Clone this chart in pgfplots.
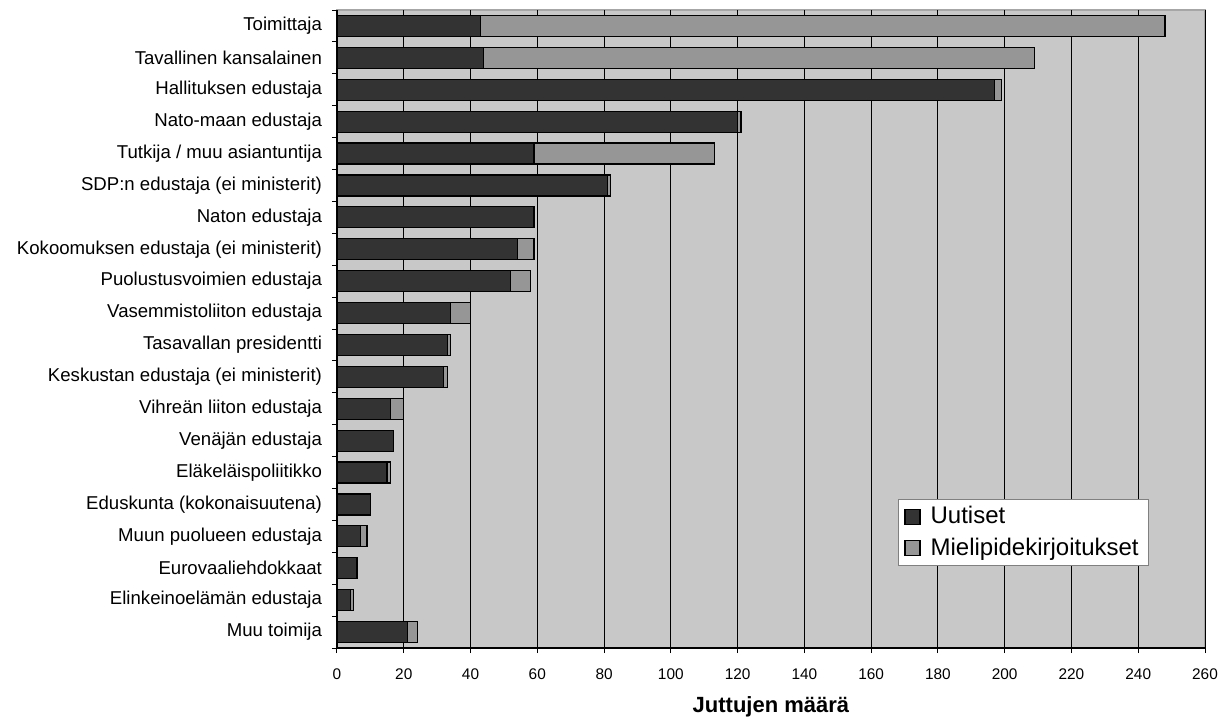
\documentclass[border=0pt]{standalone}
\usepackage{pgfplots}
\pgfplotsset{compat=1.18}
\usepackage{fontspec}
\setmainfont{Liberation Sans}
\definecolor{bgcol}{RGB}{200,200,200}
\definecolor{darkbar}{RGB}{51,51,51}
\definecolor{lightbar}{RGB}{150,150,150}
\begin{document}
\begin{tikzpicture}
\begin{axis}[
  scale only axis,
  width=434pt, height=319pt,
  xbar stacked,
  bar width=10.5pt,
  xmin=0, xmax=260,
  ymin=-0.5, ymax=19.5,
  y dir=reverse,
  xtick={0,20,...,260},
  ytick={0,...,19},
  minor ytick={-0.5,0.5,...,19.5},
  yticklabels={Toimittaja,Tavallinen kansalainen,Hallituksen edustaja,Nato-maan edustaja,Tutkija / muu asiantuntija,SDP:n edustaja (ei ministerit),Naton edustaja,Kokoomuksen edustaja (ei ministerit),Puolustusvoimien edustaja,Vasemmistoliiton edustaja,Tasavallan presidentti,Keskustan edustaja (ei ministerit),Vihreän liiton edustaja,Venäjän edustaja,Eläkeläispoliitikko,Eduskunta (kokonaisuutena),Muun puolueen edustaja,Eurovaaliehdokkaat,Elinkeinoelämän edustaja,Muu toimija},
  axis lines*=left,
  axis line style={-, black, line width=0.6pt},
  every outer x axis line/.append style={-},
  every outer y axis line/.append style={-},
  tick align=outside,
  major tick length=2.6pt,
  minor tick length=2.6pt,
  major y tick style={draw=none},
  minor y tick style={black, line width=0.5pt},
  x tick style={black, line width=0.5pt},
  xmajorgrids,
  major grid style={black, line width=0.5pt},
  axis background/.style={fill=bgcol, draw=gray!70, line width=0.8pt},
  /pgf/number format/assume math mode=true,
  x tick label style={font=\fontsize{7.7}{9}\selectfont, yshift=-4pt},
  y tick label style={font=\fontsize{9.3}{11}\selectfont, xshift=-1.4pt},
  xlabel={\textbf{Juttujen määrä}},
  xlabel style={font=\fontsize{11}{13}\selectfont, yshift=-2pt},
  legend style={at={(rel axis cs:0.6463,0.2335)}, anchor=north west,
    font=\fontsize{12}{14}\selectfont, draw=gray, fill=white,
    inner xsep=3pt, inner ysep=1.5pt, row sep=1.5pt, legend cell align=left,
    /tikz/every odd column/.append style={column sep=3pt}},
  legend image code/.code={\draw[#1, line width=0.6pt] (0pt,-3.75pt) rectangle (7.5pt,3.75pt);},
]
\addplot[fill=darkbar, draw=black, line width=0.6pt] coordinates {
(43,0) (44,1) (197,2) (120,3) (59,4) (81,5) (59,6) (54,7) (52,8) (34,9)
(33,10) (32,11) (16,12) (17,13) (15,14) (10,15) (7,16) (6,17) (4,18) (21,19)};
\addplot[fill=lightbar, draw=black, line width=0.6pt] coordinates {
(205,0) (165,1) (2,2) (1,3) (54,4) (1,5) (0,6) (5,7) (6,8) (6,9)
(1,10) (1,11) (4,12) (0,13) (1,14) (0,15) (2,16) (0,17) (1,18) (3,19)};
\legend{Uutiset,Mielipidekirjoitukset}
\end{axis}
\pgfresetboundingbox
\useasboundingbox ([xshift=-168.5pt,yshift=-34.5pt]current axis.south west) rectangle ([xshift=444pt,yshift=324pt]current axis.south west);
\end{tikzpicture}
\end{document}
